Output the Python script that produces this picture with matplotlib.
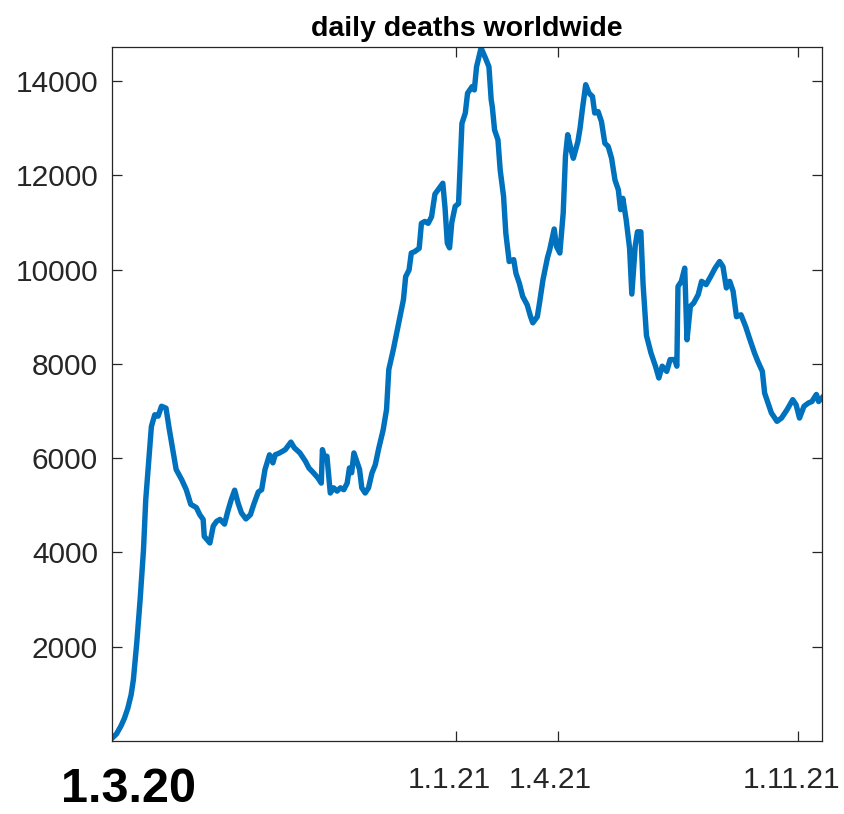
import numpy as np
import matplotlib
matplotlib.use("Agg")
import matplotlib.pyplot as plt
import matplotlib.dates as mdates
import matplotlib.transforms as mtransforms

plt.rcParams['font.family'] = ['Liberation Sans', 'DejaVu Sans']

title = "daily deaths worldwide"
start_date = "2020-03-01"
# days since start_date
day_offsets = [0, 4, 8, 11, 14, 17, 19, 22, 25, 28, 30, 33, 35, 38, 41, 44, 48, 51, 54, 57, 62, 66, 70,
               75, 78, 81, 82, 87, 90, 93, 96, 100, 103, 106, 109, 112, 115, 119, 123, 126, 130, 133, 136,
               140, 143, 145, 149, 154, 159, 162, 167, 172, 175, 179, 183, 186, 187, 189, 191, 194, 197, 200, 203,
               206, 209, 211, 213, 215, 218, 220, 222, 225, 228, 231, 234, 237, 241, 244, 246, 250, 253, 256, 259,
               261, 264, 266, 269, 273, 275, 278, 281, 284, 287, 291, 294, 296, 298, 300, 302, 305, 308, 311, 314,
               316, 320, 322, 324, 328, 332, 335, 337, 338, 340, 343, 345, 348, 350, 353, 357, 359, 362, 365, 369,
               372, 374, 378, 380, 383, 387, 389, 393, 395, 398, 401, 403, 405, 408, 410, 414, 416, 418, 421, 424,
               427, 429, 432, 435, 438, 441, 444, 447, 450, 452, 454, 457, 460, 462, 465, 467, 470, 472, 475, 479,
               483, 486, 489, 493, 496, 500, 502, 503, 506, 509, 511, 514, 517, 521, 524, 528, 532, 536, 540, 543,
               546, 549, 552, 555, 559, 563, 567, 571, 574, 578, 580, 583, 586, 591, 595, 600, 605, 608, 611, 615,
               619, 622, 626, 628, 631]
deaths = [60, 150, 320, 480, 690, 980, 1300, 2080, 3000, 4060, 5120, 6040, 6670, 6920, 6890, 7100, 7060, 6600, 6180, 5760, 5540, 5330, 5020,
          4950, 4800, 4700, 4340, 4200, 4560, 4660, 4700, 4600, 4880, 5120, 5320, 5050, 4840, 4710, 4800, 5020, 5280, 5330, 5760,
          6070, 5900, 6070, 6110, 6180, 6340, 6220, 6110, 5930, 5790, 5690, 5580, 5470, 6180, 6000, 6040, 5260, 5370, 5300, 5370,
          5330, 5470, 5790, 5690, 6110, 5900, 5760, 5370, 5260, 5370, 5680, 5860, 6200, 6600, 7030, 7880, 8300, 8650, 9000, 9360,
          9850, 9990, 10350, 10380, 10450, 10980, 11020, 10980, 11120, 11600, 11730, 11830, 11300, 10560, 10460, 11000, 11340, 11400, 13100, 13320,
          13740, 13880, 13810, 14300, 14700, 14480, 14300, 13600, 13450, 12960, 12750, 12110, 11550, 10770, 10170, 10210, 9920, 9710, 9430, 9250,
          9000, 8870, 9000, 9300, 9780, 10250, 10420, 10860, 10490, 10350, 11200, 12400, 12860, 12540, 12360, 12710, 13000, 13390, 13920, 13740,
          13670, 13320, 13350, 13140, 12680, 12610, 12360, 11900, 11690, 11270, 11510, 11050, 10450, 9480, 10500, 10800, 10800, 9680, 8600, 8230,
          7950, 7700, 7950, 7840, 8090, 8090, 7950, 9640, 9750, 10030, 8510, 9220, 9290, 9470, 9750, 9680, 9850, 10030, 10170, 10060,
          9610, 9750, 9540, 9000, 9040, 8800, 8510, 8230, 8050, 7840, 7380, 7170, 6960, 6780, 6850, 7030, 7240, 7130, 6850, 7100,
          7170, 7200, 7350, 7200, 7280]

x_tick_dates = ["2021-01-01", "2021-04-01", "2021-11-01"]
x_tick_labels = ["1.1.21", "1.4.21", "1.11.21"]
y_ticks = [2000, 4000, 6000, 8000, 10000, 12000, 14000]
start_label = "1.3.20"

dates = np.datetime64(start_date) + np.array(day_offsets).astype('timedelta64[D]')
dates_num = mdates.date2num(dates)

fig = plt.figure(figsize=(8.45, 8.14), dpi=100)
ax = fig.add_axes([112/845, 1-741/814, 710/845, 694/814])
ax.plot(dates_num, deaths, color='#0072BD', lw=3.9, solid_joinstyle='round')

ax.set_xlim(dates_num[0], dates_num[-1])
ax.set_ylim(0, max(deaths) + 20)
ax.set_xticks(mdates.date2num(np.array(x_tick_dates, dtype='datetime64[D]')))
ax.set_xticklabels(x_tick_labels)
ax.set_yticks(y_ticks)
ax.set_yticklabels([str(v) for v in y_ticks])

gray = '#262626'
for s in ax.spines.values():
    s.set_color('#262626')
    s.set_linewidth(0.9)
ax.tick_params(direction='in', length=7, width=0.9, colors=gray, labelsize=21.5,
               top=True, right=True)
ax.tick_params(axis='x', pad=18)
ax.tick_params(axis='y', pad=10)

# labels in the reference sit a little left of their ticks
shift = mtransforms.ScaledTranslation(-7/100, 0, fig.dpi_scale_trans)
for lbl in ax.get_xticklabels():
    lbl.set_transform(lbl.get_transform() + shift)

ax.set_title(title, fontsize=20.5, fontweight='bold', pad=8)

fig.text(129/845, 1-789/814, start_label, fontsize=35, fontweight='bold', color='black',
         ha='center', va='center')

fig.savefig("out.png", dpi=100)
